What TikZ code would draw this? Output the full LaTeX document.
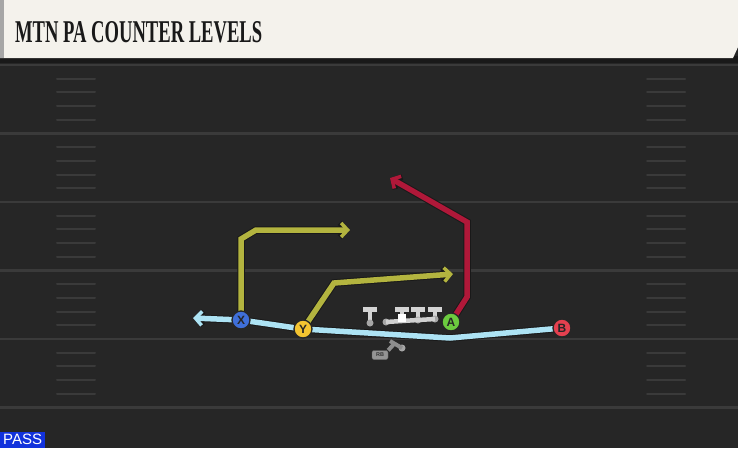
\documentclass[tikz,border=0pt]{standalone}
\usepackage{fontspec}
\setmainfont{Liberation Sans}
\newfontfamily\slabfont{Liberation Serif}
\usepackage{graphicx}
\usetikzlibrary{arrows.meta}

\definecolor{turf}{HTML}{262626}
\definecolor{yard}{HTML}{3A3A3A}
\definecolor{banner}{HTML}{F4F2EC}
\definecolor{olivecol}{HTML}{B3B43F}
\definecolor{redcol}{HTML}{B01839}
\definecolor{skycol}{HTML}{ADE3F4}
\definecolor{xblue}{HTML}{3F6FD9}
\definecolor{yyellow}{HTML}{F4C431}
\definecolor{agreen}{HTML}{6CCB3F}
\definecolor{bred}{HTML}{E4404F}
\definecolor{passblue}{HTML}{1232DC}

\pgfdeclarelayer{ground}
\pgfdeclarelayer{paths}
\pgfsetlayers{ground,paths,main}

\tikzset{
  player/.style={circle, draw=black!85, line width=1.3pt, minimum size=18pt, inner sep=0pt,
    font=\bfseries\fontsize{12}{12}\selectfont, text=black!85},
  route/.style={line width=5.5pt, line join=miter, -{Straight Barb[length=6.5pt,width=14pt,line width=3.5pt]},
    preaction={draw=black!90, line width=7.5pt, -{Straight Barb[length=6.5pt,width=14pt,line width=5.5pt]}}},
  yardline/.style={yard, line width=2.5pt},
  hashmark/.style={yard, line width=2pt, line cap=round},
  olman/.style={fill=black!17},
  olfoot/.style={circle, fill=black!35, inner sep=0pt, minimum size=7pt},
  rbtag/.style={rounded corners=2pt, fill=black!42, draw=black!60, inner sep=0pt, minimum width=16pt,
    minimum height=9pt, font=\bfseries\fontsize{5.5}{5.5}\selectfont, text=black!80}
}

\begin{document}
\begin{tikzpicture}[x=1pt, y=-1pt]
  \useasboundingbox (0,0) rectangle (738,448);

  \begin{pgfonlayer}{ground}
    \fill[turf] (0,0) rectangle (738,448);
    % yard lines and hash marks
    \foreach \yy in {65,133.5,202,270.5,339,407.5}
      \draw[yardline] (0,\yy) -- (738,\yy);
    \foreach \yy in {65,133.5,202,270.5,339}
      \foreach \k in {1,...,4} {
        \draw[hashmark] (57,{\yy+\k*13.7}) -- (95,{\yy+\k*13.7});
        \draw[hashmark] (647,{\yy+\k*13.7}) -- (685,{\yy+\k*13.7});
      }
    % banner
    \fill[black!90] (0,56) rectangle (738,63);
    \fill[banner] (0,0) -- (738,0) -- (738,47) -- (733,58) -- (0,58) -- cycle;
    \fill[black!35] (0,0) rectangle (4,58);
  \end{pgfonlayer}

  \node [anchor=west, inner sep=0pt, text=black!90] (title)
    at (15,32.5) {\resizebox{247pt}{21pt}{\slabfont\bfseries MTN PA COUNTER LEVELS}};

  % skill players
  \node [player, fill=xblue] (X) at (241,320) {X};
  \node [player, fill=yyellow] (Y) at (303,329) {Y};
  \node [player, fill=agreen] (A) at (451,322) {A};
  \node [player, fill=bred] (B) at (562,328) {B};

  % route points
  \coordinate (xup) at (241,239);
  \coordinate (xcut) at (256,230);
  \coordinate (xend) at (350,230);
  \coordinate (ycut) at (334,283);
  \coordinate (yend) at (453,274);
  \coordinate (arel) at (467,297);
  \coordinate (apost) at (467,222);
  \coordinate (aend) at (390,178);
  \coordinate (bdip) at (450,338);
  \coordinate (bend) at (193,318);

  \begin{pgfonlayer}{paths}
    \draw [route, skycol] (B.center) -- (bdip) -- (Y.center) -- (X.center) -- (bend);
    \draw [route, olivecol] (X.center) -- (xup) -- (xcut) -- (xend);
    \draw [route, olivecol] (Y.center) -- (ycut) -- (yend);
    \draw [route, redcol] (A.center) -- (arel) -- (apost) -- (aend);

    % offensive line
    \foreach \xx in {370,402,418,435} {
      \fill[olman] (\xx-7,307) rectangle (\xx+7,311.5);
      \fill[olman] (\xx-2,311) rectangle (\xx+2,320);
    }
    \node [olfoot] (lt) at (370,323) {};
    \node [olfoot] (lg) at (386,322) {};
    \node [olfoot] (rg) at (418,320) {};
    \node [olfoot] (rt) at (435,319) {};
    \draw [black!18, line width=4.5pt] (lg.center) -- (rg.center) -- (rt.center);
    \node [fill=white, minimum size=8pt, inner sep=0pt] (c) at (402,318) {};

    % running back
    \node [olfoot] (rbfoot) at (402,348) {};
    \coordinate (rbtop) at (390,341);
    \draw [black!45, line width=4pt] (rbtop) -- (rbfoot.center);
  \end{pgfonlayer}
  \node [rbtag] (rb) at (380,355) {RB};
  \begin{pgfonlayer}{paths}
    \draw [black!45, line width=4pt] (rb.north east) -- (394,344);
  \end{pgfonlayer}

  \node [anchor=south west, fill=passblue, text=white, inner sep=0pt, minimum width=45pt, minimum height=16pt,
    font=\fontsize{15}{15}\selectfont] (pass) at (0,448) {PASS};
\end{tikzpicture}
\end{document}
